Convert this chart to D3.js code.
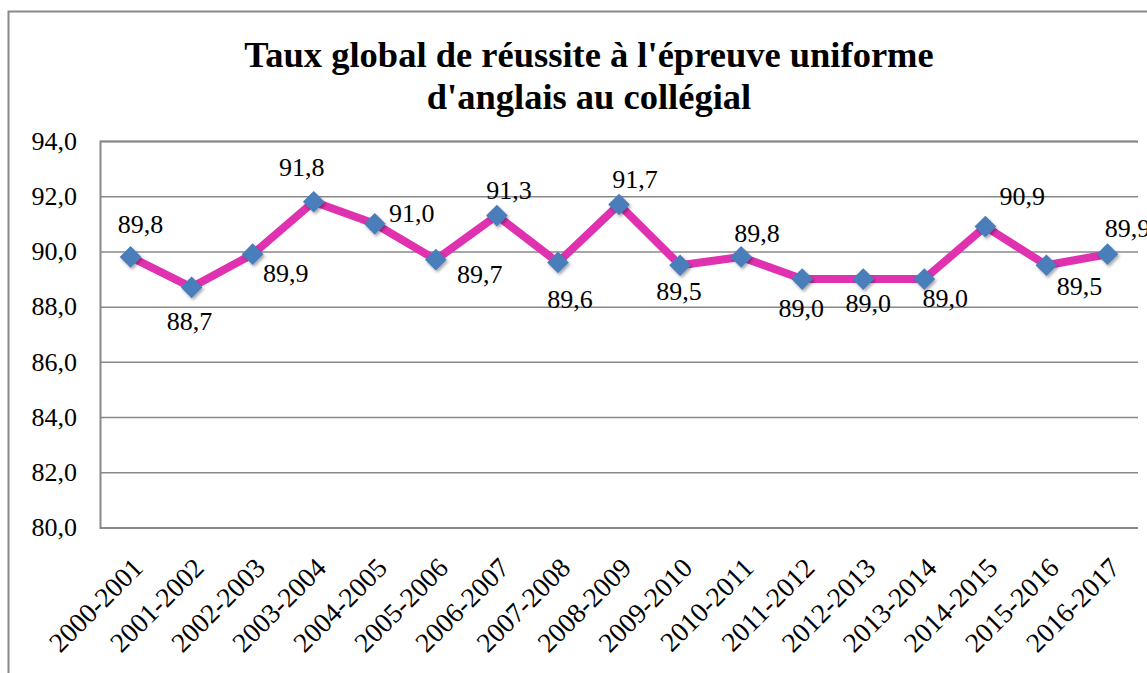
<!DOCTYPE html>
<html>
<head>
<meta charset="utf-8">
<title>Taux global de réussite</title>
<script src="https://cdn.jsdelivr.net/npm/d3@7"></script>
<style>
  body { margin: 0; background: #fff; }
  svg { display: block; }
</style>
</head>
<body>
<svg width="1147" height="673"></svg>
<script>
// data
var years = ["2000-2001","2001-2002","2002-2003","2003-2004","2004-2005","2005-2006",
  "2006-2007","2007-2008","2008-2009","2009-2010","2010-2011","2011-2012","2012-2013",
  "2013-2014","2014-2015","2015-2016","2016-2017"];
var rates = [89.8, 88.7, 89.9, 91.8, 91.0, 89.7, 91.3, 89.6, 91.7, 89.5, 89.8, 89.0, 89.0, 89.0, 90.9, 89.5, 89.9];
var yTicks = [80, 82, 84, 86, 88, 90, 92, 94];
var titleLines = ["Taux global de réussite à l'épreuve uniforme", "d'anglais au collégial"];

var serif = "Liberation Serif";
var svg = d3.select("svg");
var fmt = function(v) { return d3.format(".1f")(v).replace(".", ","); };

// outer frame (right and bottom edges fall outside the picture)
svg.append("path")
  .attr("d", "M8.5,673 V11.5 H1147")
  .attr("fill", "none").attr("stroke", "#888").attr("stroke-width", 2);

// title
svg.append("g").selectAll("text").data(titleLines).enter().append("text")
  .attr("x", 589).attr("y", function(d, i) { return 67 + i * 42; })
  .attr("text-anchor", "middle")
  .style("font-family", serif).style("font-size", "36.5px").style("font-weight", "bold")
  .text(function(d) { return d; });

// scales
var x = d3.scaleBand().domain(years).range([100, 1138]);
var y = d3.scaleLinear().domain([80, 94]).range([527.5, 141]);

// gridlines + y axis
var yAxis = d3.axisLeft(y).tickValues(yTicks).tickSize(-(1138 - 100)).tickFormat(fmt).tickPadding(23);
var gy = svg.append("g").attr("transform", "translate(100,0)").call(yAxis);
gy.select(".domain").attr("stroke", "#888").attr("stroke-width", 2);
gy.selectAll(".tick line").attr("stroke", "#888").attr("stroke-width", 1.5);
gy.selectAll(".tick text").attr("fill", "#000")
  .style("font-family", serif).style("font-size", "26px");

// x axis labels
var xAxis = d3.axisBottom(x).tickSize(0).tickPadding(0);
var gx = svg.append("g").attr("transform", "translate(0,527.5)").call(xAxis);
gx.select(".domain").remove();
gx.selectAll(".tick text")
  .attr("fill", "#000")
  .style("font-family", serif).style("font-size", "27.5px")
  .attr("text-anchor", "end")
  .attr("dy", null).attr("y", 0)
  .attr("transform", "translate(14,42) rotate(-45)");

var cx = function(d, i) { return x(years[i]) + x.bandwidth() / 2; };

// shadow for markers
var defs = svg.append("defs");
var f = defs.append("filter").attr("id", "shadow").attr("x", "-50%").attr("y", "-50%").attr("width", "200%").attr("height", "200%");
f.append("feDropShadow").attr("dx", 1.5).attr("dy", 2).attr("stdDeviation", 1.5).attr("flood-color", "#000").attr("flood-opacity", 0.35);

// line
var line = d3.line().x(cx).y(function(d) { return y(d); });
svg.append("path").datum(rates)
  .attr("d", line)
  .attr("fill", "none").attr("stroke", "#E032B0").attr("stroke-width", 8)
  .attr("stroke-linejoin", "round");

// markers
svg.append("g").selectAll("path").data(rates).enter().append("path")
  .attr("d", d3.symbol().type(d3.symbolDiamond2).size(300))
  .attr("transform", function(d, i) { return "translate(" + cx(d, i) + "," + y(d) + ")"; })
  .attr("fill", "#4A7EBB")
  .attr("filter", "url(#shadow)");

// value labels, nudged as in the original
var labelShift = [[10,-24],[-2,43],[33,28],[-12,-26],[37,-2],[44,23],[12,-17],[12,46],[16,-16],
  [-1,35],[16,-15],[-1,38],[5,33],[21,28],[37,-22],[33,30],[20,-17]];
svg.append("g").selectAll("text").data(rates).enter().append("text")
  .attr("x", function(d, i) { return cx(d, i) + labelShift[i][0]; })
  .attr("y", function(d, i) { return y(d) + labelShift[i][1]; })
  .attr("text-anchor", "middle")
  .style("font-family", serif).style("font-size", "26px")
  .text(fmt);
</script>
</body>
</html>
